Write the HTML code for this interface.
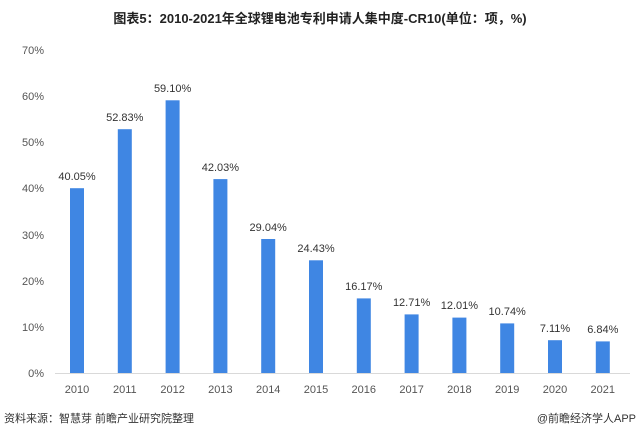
<!DOCTYPE html>
<html><head><meta charset="utf-8"><style>
body{margin:0;background:#fff;width:640px;height:438px;overflow:hidden;}
</style></head><body>
<svg width="640" height="438" xmlns="http://www.w3.org/2000/svg" font-family="Liberation Sans, Noto Sans CJK SC, sans-serif">
<text x="320" y="23" text-anchor="middle" font-size="13" font-weight="bold" fill="#222">图表5：2010-2021年全球锂电池专利申请人集中度-CR10(单位：项，%)</text>
<g font-size="11" fill="#555" text-anchor="end">
<text x="44" y="377">0%</text><text x="44" y="331">10%</text><text x="44" y="285">20%</text><text x="44" y="239">30%</text><text x="44" y="192">40%</text><text x="44" y="146">50%</text><text x="44" y="100">60%</text><text x="44" y="54">70%</text>
</g>
<line x1="55" y1="373.5" x2="630" y2="373.5" stroke="#d9d9d9" stroke-width="1"/>
<g fill="#3f86e3">
<rect x="70" y="188.2" width="14" height="184.8"/>
<rect x="117.8" y="129.2" width="14" height="243.8"/>
<rect x="165.6" y="100.3" width="14" height="272.7"/>
<rect x="213.4" y="179.1" width="14" height="193.9"/>
<rect x="261.2" y="239" width="14" height="134"/>
<rect x="309" y="260.3" width="14" height="112.7"/>
<rect x="356.8" y="298.4" width="14" height="74.6"/>
<rect x="404.6" y="314.4" width="14" height="58.6"/>
<rect x="452.4" y="317.6" width="14" height="55.4"/>
<rect x="500.2" y="323.4" width="14" height="49.6"/>
<rect x="548" y="340.2" width="14" height="32.8"/>
<rect x="595.8" y="341.4" width="14" height="31.6"/>
</g>
<g font-size="11" fill="#333" text-anchor="middle">
<text x="77" y="180">40.05%</text>
<text x="124.8" y="121">52.83%</text>
<text x="172.6" y="92">59.10%</text>
<text x="220.4" y="171">42.03%</text>
<text x="268.2" y="231">29.04%</text>
<text x="316" y="252">24.43%</text>
<text x="363.8" y="290">16.17%</text>
<text x="411.6" y="306">12.71%</text>
<text x="459.4" y="309">12.01%</text>
<text x="507.2" y="315">10.74%</text>
<text x="555" y="332">7.11%</text>
<text x="602.8" y="333">6.84%</text>
</g>
<g font-size="11" fill="#555" text-anchor="middle">
<text x="77" y="393">2010</text><text x="124.8" y="393">2011</text><text x="172.6" y="393">2012</text><text x="220.4" y="393">2013</text><text x="268.2" y="393">2014</text><text x="316" y="393">2015</text><text x="363.8" y="393">2016</text><text x="411.6" y="393">2017</text><text x="459.4" y="393">2018</text><text x="507.2" y="393">2019</text><text x="555" y="393">2020</text><text x="602.8" y="393">2021</text>
</g>
<text x="4" y="422" font-size="11" fill="#333">资料来源：智慧芽 前瞻产业研究院整理</text>
<text x="636" y="422" font-size="11" fill="#333" text-anchor="end">@前瞻经济学人APP</text>
</svg>
</body></html>
